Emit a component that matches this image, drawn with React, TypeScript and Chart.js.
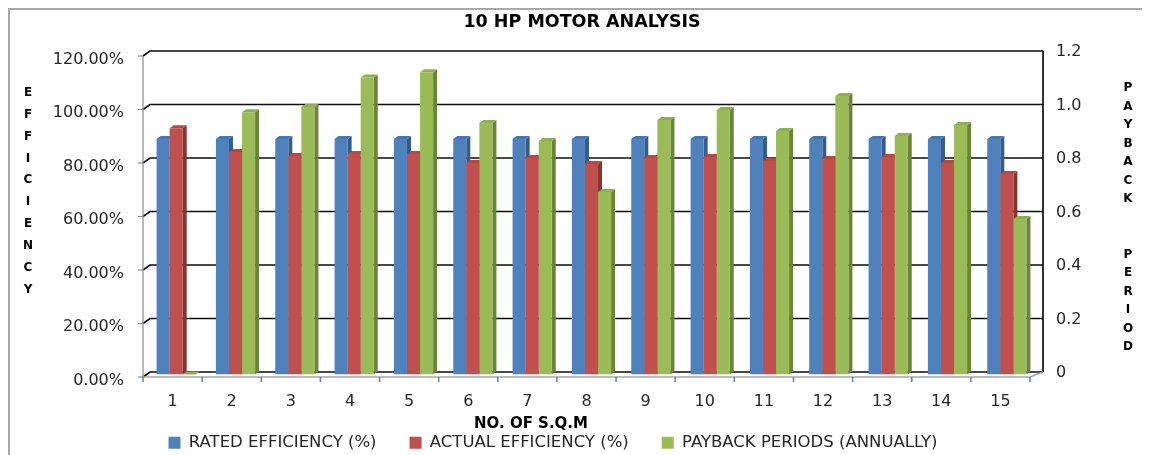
import { useEffect, useRef } from "react";
import { Chart, registerables } from "chart.js";

Chart.register(...registerables);

// ---- data ----
const chartTitle = "10 HP MOTOR ANALYSIS";
const xAxisTitle = "NO. OF S.Q.M";
const leftAxisLetters = "EFFICIENCY".split("");
const rightAxisLetters = [..."PAYBACK".split(""), "", "", ..."PERIOD".split("")];

const categories = ["1", "2", "3", "4", "5", "6", "7", "8", "9", "10", "11", "12", "13", "14", "15"];
const seriesNames = ["RATED EFFICIENCY (%)", "ACTUAL EFFICIENCY (%)", "PAYBACK PERIODS (ANNUALLY)"];
const ratedEfficiency = [0.88, 0.88, 0.88, 0.88, 0.88, 0.88, 0.88, 0.88, 0.88, 0.88, 0.88, 0.88, 0.88, 0.88, 0.88];
const actualEfficiency = [0.921, 0.832, 0.817, 0.824, 0.824, 0.791, 0.809, 0.787, 0.809, 0.813, 0.798, 0.806, 0.813, 0.791, 0.75];
const paybackPeriod = [0, 0.98, 1.0, 1.11, 1.13, 0.94, 0.873, 0.682, 0.951, 0.989, 0.91, 1.041, 0.892, 0.933, 0.581];
const axisMin = 0;
const axisMax = 1.2;
const axisStep = 0.2;

// ---- styling ----
const FONT = "'DejaVu Sans', Verdana, sans-serif";
const TEXT = "#262626";
const CANVAS_W = 1132;
const CANVAS_H = 451;
const faceColors = [
  { front: "#4F81BD", side: "#355C8A", top: "#4676B2" },
  { front: "#C0504D", side: "#873331", top: "#B44845" },
  { front: "#9BBB59", side: "#6A8538", top: "#8FAF50" },
];
const BAR_SIDE_W = 4;
const BAR_SIDE_H = 3;

// depth offsets of the back wall and the front edge around the bar plane
const backX = (a: any, x: number) => x + 3.5 + (3 * (x - a.left)) / (a.right - a.left);
const frontX = (a: any, x: number) => x - 3.5 - (3 * (x - a.left)) / (a.right - a.left);

// Back wall, floor and front axis of the pseudo-3D box, plus the side/top faces of every bar.
const wall3d = {
  id: "wall3d",
  beforeDatasetsDraw(chart: any) {
    const { ctx, chartArea: a, scales } = chart;
    const yScale = scales.y;
    const w = a.right - a.left;
    ctx.save();
    ctx.lineCap = "butt";

    // back wall gridlines with the slanted joins to the front axis
    for (const t of yScale.ticks) {
      const yp = yScale.getPixelForValue(t.value);
      ctx.strokeStyle = "#0d0d0d";
      ctx.lineWidth = 1.7;
      ctx.beginPath();
      ctx.moveTo(frontX(a, a.left), yp + 2.5);
      ctx.lineTo(backX(a, a.left), yp - 2.5);
      ctx.lineTo(backX(a, a.right), yp - 2.5);
      ctx.stroke();
      ctx.strokeStyle = "#8c8c8c";
      ctx.lineWidth = 1.2;
      ctx.beginPath();
      ctx.moveTo(frontX(a, a.left) - 5, yp + 2.5);
      ctx.lineTo(frontX(a, a.left), yp + 2.5);
      ctx.stroke();
    }
    // right wall edge
    ctx.strokeStyle = "#0d0d0d";
    ctx.lineWidth = 1.7;
    ctx.beginPath();
    ctx.moveTo(backX(a, a.right), a.top - 2.5);
    ctx.lineTo(backX(a, a.right), a.bottom - 2.5);
    ctx.stroke();
    // front value axis
    ctx.strokeStyle = "#8c8c8c";
    ctx.lineWidth = 1.2;
    ctx.beginPath();
    ctx.moveTo(frontX(a, a.left), a.top + 2.5);
    ctx.lineTo(frontX(a, a.left), a.bottom + 2.5);
    ctx.stroke();
    // floor front edge
    ctx.strokeStyle = "#a6a6a6";
    ctx.lineWidth = 1.5;
    ctx.beginPath();
    ctx.moveTo(frontX(a, a.left), a.bottom + 2.5);
    ctx.lineTo(frontX(a, a.right), a.bottom + 2.5);
    ctx.lineTo(backX(a, a.right), a.bottom - 2.5);
    ctx.stroke();
    // category tick marks
    ctx.strokeStyle = "#4F81BD";
    ctx.lineWidth = 1.5;
    for (let i = 0; i <= categories.length; i++) {
      const x = frontX(a, a.left + (i * w) / categories.length);
      ctx.beginPath();
      ctx.moveTo(x, a.bottom + 2.5);
      ctx.lineTo(x, a.bottom + 7.5);
      ctx.stroke();
    }

    // bar side faces first, then top faces; the front faces are drawn by Chart.js afterwards
    const bars: { l: number; r: number; t: number; b: number; c: (typeof faceColors)[number] }[] = [];
    chart.data.datasets.forEach((_: any, di: number) => {
      const meta = chart.getDatasetMeta(di);
      meta.data.forEach((el: any) => {
        const p = el.getProps(["x", "y", "base", "width"], true);
        bars.push({
          l: p.x - p.width / 2,
          r: p.x + p.width / 2,
          t: Math.min(p.y, p.base),
          b: Math.max(p.y, p.base),
          c: faceColors[di],
        });
      });
    });
    for (const bar of bars) {
      ctx.fillStyle = bar.c.side;
      ctx.beginPath();
      ctx.moveTo(bar.r, bar.t);
      ctx.lineTo(bar.r + BAR_SIDE_W, bar.t - BAR_SIDE_H);
      ctx.lineTo(bar.r + BAR_SIDE_W, bar.b - BAR_SIDE_H);
      ctx.lineTo(bar.r, bar.b);
      ctx.closePath();
      ctx.fill();
    }
    for (const bar of bars) {
      ctx.fillStyle = bar.c.top;
      ctx.beginPath();
      ctx.moveTo(bar.l, bar.t);
      ctx.lineTo(bar.l + BAR_SIDE_W, bar.t - BAR_SIDE_H);
      ctx.lineTo(bar.r + BAR_SIDE_W, bar.t - BAR_SIDE_H);
      ctx.lineTo(bar.r, bar.t);
      ctx.closePath();
      ctx.fill();
    }
    ctx.restore();
  },
};

// Chart heading, category labels on the front edge and the axis titles
const headings = {
  id: "headings",
  afterDraw(chart: any) {
    const { ctx, chartArea: a, scales } = chart;
    ctx.save();
    ctx.textAlign = "center";
    ctx.textBaseline = "middle";

    ctx.fillStyle = "#000";
    ctx.font = `bold 17.5px ${FONT}`;
    ctx.fillText(chartTitle, 572, 12.5);

    ctx.fillStyle = TEXT;
    ctx.font = `16px ${FONT}`;
    categories.forEach((c, i) => {
      ctx.fillText(c, frontX(a, scales.x.getPixelForValue(i)), a.bottom + 27.5);
    });

    ctx.fillStyle = "#000";
    ctx.font = `bold 15px ${FONT}`;
    ctx.fillText(xAxisTitle, 521, a.bottom + 49.5);

    ctx.font = `bold 12px ${FONT}`;
    leftAxisLetters.forEach((ch, i) => ctx.fillText(ch, 18, 82.7 + i * 21.9));
    rightAxisLetters.forEach((ch, i) => {
      if (ch) ctx.fillText(ch, 1118, 78 + i * 18.5);
    });
    ctx.restore();
  },
};

export default function App() {
  const canvasRef = useRef<HTMLCanvasElement>(null);

  useEffect(() => {
    const tickFont = { family: FONT, size: 16 };
    const chart = new Chart(canvasRef.current as HTMLCanvasElement, {
      type: "bar",
      data: {
        labels: categories,
        datasets: [
          { label: seriesNames[0], data: ratedEfficiency, backgroundColor: faceColors[0].front, borderWidth: 0, yAxisID: "y" },
          { label: seriesNames[1], data: actualEfficiency, backgroundColor: faceColors[1].front, borderWidth: 0, yAxisID: "y" },
          { label: seriesNames[2], data: paybackPeriod, backgroundColor: faceColors[2].front, borderWidth: 0, yAxisID: "y1" },
        ],
      },
      options: {
        responsive: false,
        animation: false,
        layout: { padding: { top: 43.5, left: 0, right: 46, bottom: 0 } },
        datasets: { bar: { categoryPercentage: 0.66, barPercentage: 1 } },
        plugins: {
          title: { display: false },
          legend: {
            position: "bottom",
            labels: {
              boxWidth: 12,
              boxHeight: 12,
              padding: 33,
              color: TEXT,
              font: { family: FONT, size: 16.5 },
            },
          },
          tooltip: { enabled: false },
        },
        scales: {
          x: {
            grid: { display: false, drawTicks: false },
            border: { display: false },
            ticks: { display: false },
            afterFit: (s: any) => {
              s.height = 27;
            },
          },
          y: {
            position: "left",
            min: axisMin,
            max: axisMax,
            grid: { display: false, drawTicks: false },
            border: { display: false },
            ticks: {
              stepSize: axisStep,
              padding: 22.5,
              labelOffset: 6,
              color: TEXT,
              font: tickFont,
              callback: (v: any) => (Number(v) * 100).toFixed(2) + "%",
            },
            afterFit: (s: any) => {
              s.width = 136.5;
            },
          },
          y1: {
            position: "right",
            min: axisMin,
            max: axisMax,
            grid: { display: false, drawTicks: false },
            border: { display: false },
            ticks: {
              stepSize: axisStep,
              padding: 19.5,
              labelOffset: -1.5,
              color: TEXT,
              font: tickFont,
              callback: (v: any) => (Number(v) === 0 ? "0" : Number(v).toFixed(1)),
            },
            afterFit: (s: any) => {
              s.width = CANVAS_W - 46 - 1026.5;
            },
          },
        },
      } as any,
      plugins: [wall3d, headings],
    });
    return () => chart.destroy();
  }, []);

  return (
    <div
      style={{
        borderTop: "2px solid #a8a8a8",
        borderLeft: "2px solid #a8a8a8",
        width: CANVAS_W,
        height: CANVAS_H,
        background: "#fff",
      }}
    >
      <style>{"html,body{overflow:hidden;background:#fff}"}</style>
      <canvas ref={canvasRef} width={CANVAS_W} height={CANVAS_H} style={{ display: "block" }} />
    </div>
  );
}
